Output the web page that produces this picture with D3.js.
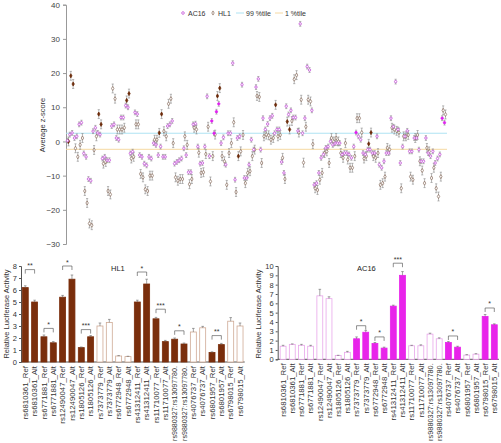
<!DOCTYPE html>
<html><head><meta charset="utf-8">
<script src="https://cdn.jsdelivr.net/npm/d3@7"></script>
<style>body{margin:0;background:#fff}svg{display:block;font-family:"Liberation Sans",Arial,sans-serif}</style>
</head><body><svg id="c" width="501" height="443"></svg>
<script>
// ---------- Scatter data (average z-score per variant) ----------
const zAC16 = [0.2,2.0,2.5,1.0,1.5,5.0,5.5,-3.5,-4.5,-11,-11.5,3,4,2.5,2,-5,-4.5,-5.5,-5.5,4.5,5,1,0.5,7,7,10.5,10,-3.5,-3,8.5,8,-4,-4.5,-6.5,-7,-4.5,-5,-0.5,-1,-4,-1.5,-4.5,-4.5,4.5,5,6,-6.5,-6,-5.5,-5,-2,-4,-9,-9,5,
5.2,-1.5,-6.5,-6.3,-1.5,13.2,-4.3,6,2.4,8.7,11,-0.5,1.2,-6.8,2.4,2.4,22.9,-11.2,1,1.5,16.6,-10.7,-10.7,-6.8,0.5,-2.4,15.9,18.3,-2.4,6.8,3.5,5.1,6.8,7.5,2.4,3.5,3.5,-6,-9.2,10.3,7.9,9.1,7,7,3.1,34.4,2.4,6.8,21.9,20.9,9.1,-12.7,-12.2,-9.2,-4.8,-3.8,-1.9,-1.5,0,
-1,-0.5,-0.5,-0.5,-3.8,-3.4,-3.4,-3.8,-4.8,-1.5,2.6,1.5,0.5,-3.4,-3.8,-2.4,-2.4,-3.4,-3.4,1.5,-6.8,-7.7,-5.8,-3.4,-3.4,6.8,4.3,17.5,3.5,-6.3,-1.5,1.5,3.1,-2.9,-2.9,1,1,-2.4,-5.8,-5.8,1,-3.4,-4.3,-2.9,-6.3,-5,-3.8,6.8,5.5];
const zHL1 = [0,19.2,16.8,-2,-4.5,-1,1,-14.5,-18,-24,-24.5,-2.5,1.5,8,5,-6.5,-6,-14.5,-15.5,15.5,12.5,3.5,3.5,3.5,4,12,14,-5,-4.5,5,5,-9.5,-10.5,-14,-14.5,-10,-10,0.5,0.5,2.5,8,3,1.5,11,12.5,-0.5,-10.5,-11.5,-11,-11,1.5,-1,-12.5,-11,4,
3.5,-3.3,-9.2,-9,-3.7,4.3,-11.7,-4.3,2.0,13.3,15.6,-4.3,-5.8,-12.7,-3.4,-0.5,5.6,-14.8,-4.3,-2.9,1.9,-12.2,-9.2,-8.7,-4.3,-2.4,13.3,13,-6.3,1.5,2,1.8,0.5,1,10.7,1.5,1.9,-4.8,-11,5.8,3.5,6,18.2,19.4,2.6,12.2,-6.2,4.3,12.2,11.7,-0.8,-13.7,-14.2,-11.2,-9.2,-3.4,-2.9,-6.3,1,
0,1,0,-3.4,-4.8,-0.5,-5.3,-7.7,-7.7,-4.3,6.8,6.8,2.6,-5,-4.3,-0.7,2.6,-4.3,-4.8,-3.4,-12.7,-12.2,-10.3,-1.9,-2.4,4,3.5,3.1,2.6,-13.7,1.5,1.5,1.9,-10.3,-11.2,1,1.9,-5.8,-8.5,-12.2,-1.9,-2.9,-10.7,-7.7,-13.7,-16.1,-10.3,9.1,7.9];
const sigAC16 = [62,63,64,65,124,161,162];
const sigHL1 = [0,1,2,13,14,25,26,39,40,64,65,73,89,94,95,129,130];
const errAC16 = 0.7, errHL1 = 1.3;
const pct99 = 2.4, pct1 = -2.3;
const zTicks = [40,30,20,10,0,-10,-20,-30];

// ---------- Luciferase data ----------
const variants = ["rs6810361_Ref","rs6810361_Alt","rs6771881_Ref","rs6771881_Alt","rs12490047_Ref","rs12490047_Alt","rs1805126_Ref","rs1805126_Alt","rs7373779_Ref","rs7373779_Alt","rs6772948_Ref","rs6772948_Alt","rs41312411_Ref","rs41312411_Alt","rs11710077_Ref","rs11710077_Alt","rs9880327:rs13097780.","rs9880327:rs13097780.","rs4076737_Ref","rs4076737_Alt","rs6801957_Ref","rs6801957_Alt","rs6798015_Ref","rs6798015_Alt"];
const hl1Vals = [6.2,5.0,2.1,1.6,5.4,6.9,1.2,2.1,3.0,3.3,0.5,0.45,5.0,6.5,3.6,1.7,1.9,1.5,2.5,2.85,0.8,1.45,3.4,3.0];
const hl1Err  = [0.15,0.15,0.15,0.1,0.15,0.35,0.05,0.1,0.25,0.25,0.03,0.03,0.15,0.4,0.12,0.1,0.1,0.08,0.3,0.12,0.05,0.1,0.3,0.25];
const hl1Sig  = [1,1,1,1,1,1,1,1,0,0,0,0,1,1,1,1,1,1,0,0,1,1,0,0];
const hl1Stars = [[0,1,"**",7.7],[2,3,"*",2.8],[4,5,"*",8.0],[6,7,"***",2.7],[12,13,"*",7.5],[14,15,"***",4.4],[16,17,"*",2.6],[20,21,"**",2.2]];
const ac16Vals = [1.4,1.6,1.5,1.4,6.8,6.5,0.4,0.75,2.2,2.9,1.7,1.2,5.7,9.0,1.45,1.45,2.7,2.2,1.8,1.3,0.45,0.55,4.6,3.7];
const ac16Err  = [0.1,0.05,0.1,0.1,0.7,0.2,0.03,0.1,0.2,0.2,0.1,0.1,0.1,0.4,0.05,0.1,0.1,0.1,0.1,0.1,0.05,0.05,0.2,0.1];
const ac16Sig  = [0,0,0,0,0,0,0,0,1,1,1,1,1,1,0,0,0,0,1,1,0,0,1,1];
const ac16Stars = [[8,9,"*",3.6],[10,11,"*",2.4],[12,13,"***",10.3],[18,19,"*",2.5],[22,23,"*",5.5]];

const svg = d3.select("#c");
const purple = "#c450d8", purpleFill = "#e020f0", brown = "#866a5a", brownFill = "#6b2a08";

// ================= Scatter =================
const sx = d3.scalePoint().domain(d3.range(zAC16.length)).range([68, 445]);
const sy = d3.scaleLinear().domain([-30, 40]).range([244, 4.7]);
const gS = svg.append("g");
const yAx = d3.axisLeft(sy).tickValues(zTicks).tickSize(3).tickPadding(3);
const ga = gS.append("g").attr("transform", "translate(66,0)").call(yAx);
ga.select(".domain").attr("stroke", "#999");
ga.selectAll(".tick line").attr("stroke", "#999");
ga.selectAll("text").attr("font-size", 8).attr("fill", "#444").attr("font-family", "Liberation Sans, Arial");
gS.append("text").attr("transform", "translate(45,125) rotate(-90)").attr("text-anchor", "middle")
  .attr("font-size", 7.5).attr("fill", "#333").text("Average z-score");

gS.append("line").attr("x1", 66).attr("x2", 447).attr("y1", sy(pct99)).attr("y2", sy(pct99)).attr("stroke", "#aee3f3").attr("stroke-width", 1);
gS.append("line").attr("x1", 66).attr("x2", 447).attr("y1", sy(pct1)).attr("y2", sy(pct1)).attr("stroke", "#f6d9a2").attr("stroke-width", 1);

function errBars(vals, e, dx) {
  const g = gS.append("g").attr("stroke", "#8a8a8a").attr("stroke-width", 0.6);
  vals.forEach((v, i) => {
    const x = sx(i) + dx;
    g.append("line").attr("x1", x).attr("x2", x).attr("y1", sy(v - e)).attr("y2", sy(v + e));
    g.append("line").attr("x1", x - 1.1).attr("x2", x + 1.1).attr("y1", sy(v - e)).attr("y2", sy(v - e));
    g.append("line").attr("x1", x - 1.1).attr("x2", x + 1.1).attr("y1", sy(v + e)).attr("y2", sy(v + e));
  });
}
errBars(zHL1, errHL1, 0.5);
errBars(zAC16, errAC16, -0.5);
const diamond = d3.symbol().type(d3.symbolDiamond).size(5);
gS.append("g").selectAll("path").data(zHL1).join("path")
  .attr("d", diamond).attr("transform", (d, i) => `translate(${sx(i) + 0.5},${sy(d)})`)
  .attr("fill", (d, i) => sigHL1.includes(i) ? brownFill : "#fff")
  .attr("stroke", (d, i) => sigHL1.includes(i) ? brownFill : brown).attr("stroke-width", 0.7);
gS.append("g").selectAll("circle").data(zAC16).join("circle")
  .attr("cx", (d, i) => sx(i) - 0.5).attr("cy", d => sy(d)).attr("r", 1.2)
  .attr("fill", (d, i) => sigAC16.includes(i) ? purpleFill : "#fff")
  .attr("stroke", (d, i) => sigAC16.includes(i) ? purpleFill : purple).attr("stroke-width", 0.8);

// legend
const lg = gS.append("g").attr("font-size", 7).attr("fill", "#333");
lg.append("circle").attr("cx", 183).attr("cy", 13).attr("r", 1.3).attr("fill", "#fff").attr("stroke", purple).attr("stroke-width", 0.8);
lg.append("text").attr("x", 188).attr("y", 15.5).text("AC16");
lg.append("path").attr("d", diamond).attr("transform", "translate(213,13)").attr("fill", "#fff").attr("stroke", brown).attr("stroke-width", 0.7);
lg.append("text").attr("x", 218).attr("y", 15.5).text("HL1");
lg.append("line").attr("x1", 236).attr("x2", 244).attr("y1", 13).attr("y2", 13).attr("stroke", "#aee3f3");
lg.append("text").attr("x", 246).attr("y", 15.5).text("99 %tile");
lg.append("line").attr("x1", 275).attr("x2", 283).attr("y1", 13).attr("y2", 13).attr("stroke", "#f6d9a2");
lg.append("text").attr("x", 285).attr("y", 15.5).text("1 %tile");

// ================= Bar panels =================
function barPanel(opt) {
  const g = svg.append("g");
  const x = d3.scaleBand().domain(d3.range(variants.length)).range(opt.xr).paddingInner(0.36).paddingOuter(0.18);
  const y = d3.scaleLinear().domain([0, opt.max]).range(opt.yr);
  const ax = d3.axisLeft(y).ticks(opt.max).tickSize(2).tickPadding(2);
  const ag = g.append("g").attr("transform", `translate(${opt.axisX},0)`).call(ax);
  ag.select(".domain").attr("stroke", "#555");
  ag.selectAll(".tick line").attr("stroke", "#555");
  ag.selectAll("text").attr("font-size", 7.5).attr("fill", "#333").attr("font-family", "Liberation Sans, Arial");
  g.append("line").attr("x1", opt.axisX).attr("x2", opt.xr[1]).attr("y1", y(0)).attr("y2", y(0)).attr("stroke", "#555");
  g.append("text").attr("transform", `translate(${opt.titleX},314) rotate(-90)`).attr("text-anchor", "middle")
    .attr("font-size", 7.5).attr("fill", "#333").text("Relative Luciferase Activity");
  const bw = x.bandwidth();
  g.append("g").selectAll("rect").data(opt.vals).join("rect")
    .attr("x", (d, i) => x(i)).attr("y", d => y(d)).attr("width", bw).attr("height", d => y(0) - y(d))
    .attr("fill", (d, i) => opt.sig[i] ? opt.fill : "#fff")
    .attr("stroke", (d, i) => opt.sig[i] ? opt.fill : opt.light).attr("stroke-width", 0.8);
  const eg = g.append("g").attr("stroke", "#666").attr("stroke-width", 0.6);
  opt.vals.forEach((v, i) => {
    const cx = x(i) + bw / 2, e = opt.err[i];
    eg.append("line").attr("x1", cx).attr("x2", cx).attr("y1", y(v)).attr("y2", y(v + e));
    eg.append("line").attr("x1", cx - 1.3).attr("x2", cx + 1.3).attr("y1", y(v + e)).attr("y2", y(v + e));
  });
  const sg = g.append("g");
  opt.stars.forEach(([a, b, s, lev]) => {
    const x1 = x(a) + bw / 2, x2 = x(b) + bw / 2, yy = y(lev);
    sg.append("path").attr("d", `M${x1},${yy + 4}V${yy}H${x2}V${yy + 4}`).attr("fill", "none").attr("stroke", "#444").attr("stroke-width", 0.6);
    sg.append("text").attr("x", (x1 + x2) / 2).attr("y", yy - 1.5).attr("text-anchor", "middle").attr("font-size", 7).attr("fill", "#333").text(s);
  });
  const base = y(0) + 4;
  g.append("g").selectAll("text").data(variants).join("text")
    .attr("transform", (d, i) => `translate(${x(i) + bw / 2 + 2.8},${base}) rotate(-90)`)
    .attr("text-anchor", "end").attr("font-size", 7.8).attr("fill", "#333").text(d => d)
    .each(function () {
      const len = this.getComputedTextLength();
      const room = 441 - base;
      if (len > room) d3.select(this).attr("font-size", 7.8 * room / len);
    });
  g.append("text").attr("x", opt.labX).attr("y", 271).attr("font-size", 7.5).attr("fill", "#222").text(opt.name);
}
barPanel({xr: [20.6, 244.7], yr: [362, 266], max: 8, axisX: 21, titleX: 9, vals: hl1Vals, err: hl1Err, sig: hl1Sig, stars: hl1Stars,
  fill: "#7a2e0c", light: "#cfaa95", name: "HL1", labX: 111});
barPanel({xr: [278.5, 498.9], yr: [359.3, 266], max: 10, axisX: 277.7, titleX: 261, vals: ac16Vals, err: ac16Err, sig: ac16Sig, stars: ac16Stars,
  fill: "#e824ea", light: "#e8a6ea", name: "AC16", labX: 357});
</script></body></html>
